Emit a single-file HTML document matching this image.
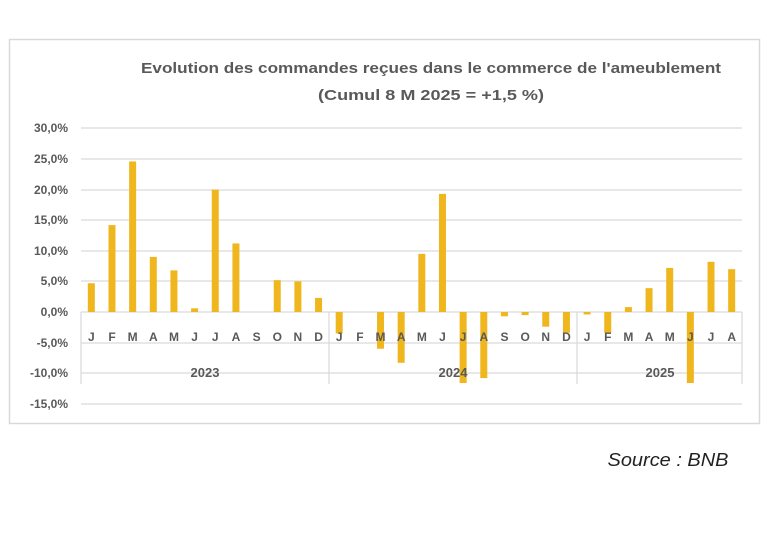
<!DOCTYPE html>
<html><head><meta charset="utf-8"><style>
html,body{margin:0;padding:0;background:#fff;}
svg{display:block;font-family:"Liberation Sans",sans-serif;}
</style></head><body>
<svg width="767" height="558" viewBox="0 0 767 558" xmlns="http://www.w3.org/2000/svg">
<rect x="9.5" y="39.5" width="750" height="384" fill="#fff" stroke="#d9d9d9" stroke-width="1.5"/>
<text x="431" y="73" text-anchor="middle" font-size="15" font-weight="bold" fill="#595959" textLength="580" lengthAdjust="spacingAndGlyphs">Evolution des commandes reçues dans le commerce de l'ameublement</text>
<text x="431" y="100" text-anchor="middle" font-size="15" font-weight="bold" fill="#595959" textLength="226" lengthAdjust="spacingAndGlyphs">(Cumul 8 M 2025 = +1,5 %)</text>
<g stroke="#d9d9d9" stroke-width="1.2">
<line x1="81" x2="742" y1="128" y2="128"/>
<line x1="81" x2="742" y1="159" y2="159"/>
<line x1="81" x2="742" y1="190" y2="190"/>
<line x1="81" x2="742" y1="220" y2="220"/>
<line x1="81" x2="742" y1="251" y2="251"/>
<line x1="81" x2="742" y1="281" y2="281"/>
<line x1="81" x2="742" y1="312" y2="312"/>
<line x1="81" x2="742" y1="343" y2="343"/>
<line x1="81" x2="742" y1="373" y2="373"/>
<line x1="81" x2="742" y1="404" y2="404"/>
<line x1="81" x2="81" y1="312" y2="384"/>
<line x1="329" x2="329" y1="312" y2="384"/>
<line x1="577" x2="577" y1="312" y2="384"/>
<line x1="742" x2="742" y1="312" y2="384"/>
</g>
<g font-size="12" fill="#595959" text-anchor="end" font-weight="bold">
<text x="68" y="132">30,0%</text>
<text x="68" y="163">25,0%</text>
<text x="68" y="194">20,0%</text>
<text x="68" y="224">15,0%</text>
<text x="68" y="255">10,0%</text>
<text x="68" y="285">5,0%</text>
<text x="68" y="316">0,0%</text>
<text x="68" y="347">-5,0%</text>
<text x="68" y="377">-10,0%</text>
<text x="68" y="408">-15,0%</text>
</g>
<g id="bars" fill="#EFB61E"></g>
<g id="labels" font-size="12" font-weight="bold" fill="#595959" text-anchor="middle"></g>
<g font-size="13" font-weight="bold" fill="#595959" text-anchor="middle">
<text x="205" y="377">2023</text>
<text x="453" y="377">2024</text>
<text x="660" y="377">2025</text>
</g>
<text x="668" y="466" text-anchor="middle" font-size="18" font-style="italic" fill="#222" textLength="121" lengthAdjust="spacingAndGlyphs">Source : BNB</text>
<script>
var v=[4.7,14.2,24.6,9,6.8,0.6,20,11.2,0,5.2,5,2.3,-3.5,0,-6,-8.3,9.5,19.3,-11.6,-10.8,-0.7,-0.5,-2.4,-3.4,-0.4,-3.4,0.8,3.9,7.2,-11.6,8.2,7];
var m="JFMAMJJASONDJFMAMJJASONDJFMAMJJA";
var ns="http://www.w3.org/2000/svg",b=document.getElementById("bars"),l=document.getElementById("labels");
var w=661/32,s=30.6/5;
for(var i=0;i<32;i++){var cx=81+(i+0.5)*w;var val=v[i];
if(val!==0){var r=document.createElementNS(ns,"rect");var h=Math.abs(val)*s;
r.setAttribute("x",cx-3.5);r.setAttribute("width",7);r.setAttribute("y",val>0?312-h:312);r.setAttribute("height",Math.max(h,1.5));b.appendChild(r);}
var t=document.createElementNS(ns,"text");t.setAttribute("x",cx);t.setAttribute("y",341);t.textContent=m[i];l.appendChild(t);}
</script>
</svg>
</body></html>
